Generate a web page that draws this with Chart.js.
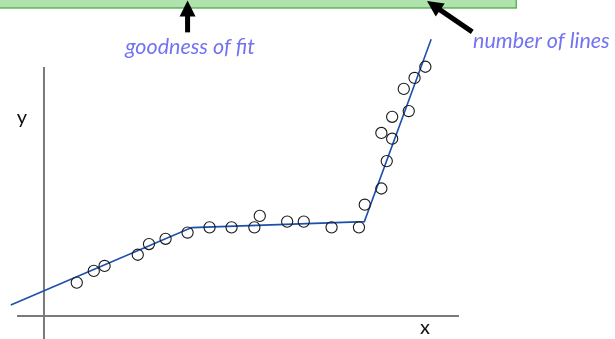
<!DOCTYPE html>
<html>
<head>
<meta charset="utf-8">
<script src="https://cdn.jsdelivr.net/npm/chart.js@4"></script>
<style>
  html, body { margin: 0; padding: 0; background: #fff; }
  #wrap { width: 615px; height: 339px; }
</style>
</head>
<body>
<div id="wrap"><canvas id="fitChart"></canvas></div>
<script>
// observed points
var pointX = [7.9, 12.0, 14.6, 22.6, 25.3, 29.3, 34.6, 39.9, 45.2, 50.7, 52.0, 58.6, 62.6,
              69.3, 75.9, 77.3, 81.3, 82.6, 83.9, 81.3, 83.9, 87.9, 86.7, 89.3, 91.9];
var pointY = [13.4, 18.1, 20.1, 24.6, 28.9, 31.0, 33.5, 35.6, 35.6, 35.6, 40.2, 37.9, 37.9,
              35.6, 35.6, 44.7, 51.2, 62.2, 71.2, 73.5, 80.0, 82.3, 91.2, 95.6, 100.1];

// piecewise linear fit (3 lines)
var fitX = [-8.0, 35.6, 77.2, 93.3];
var fitY = [4.4, 35.5, 37.9, 111.1];

// hand-drawn axes
var axisX = { x: [-6.5, 100], y: [0, 0] };
var axisY = { x: [0, 0], y: [100, -9.3] };

var labelTop1 = 'goodness of fit';
var labelTop2 = 'number of lines';

function zipXY(xs, ys) {
    return xs.map(function (v, i) { return { x: v, y: ys[i] }; });
}

var decorations = {
    id: 'decorations',
    afterDraw: function (chart) {
        var ctx = chart.ctx;
        var sx = chart.scales.x, sy = chart.scales.y;
        var px = function (v) { return sx.getPixelForValue(v); };
        var py = function (v) { return sy.getPixelForValue(v); };
        ctx.save();

        // green box at the top, only its bottom edge shows
        var boxBottom = py(123.7);
        ctx.fillStyle = '#b0e2ad';
        ctx.fillRect(px(-10.6), -5, px(113.8) - px(-10.6), boxBottom + 5);
        ctx.strokeStyle = '#5fb55c';
        ctx.lineWidth = 1.5;
        ctx.strokeRect(px(-10.6) - 2, -5, px(113.8) - px(-10.6) + 2, boxBottom + 5);

        // arrows
        ctx.fillStyle = '#000';
        ctx.strokeStyle = '#000';
        ctx.lineCap = 'butt';
        function arrow(x1, y1, x2, y2) {
            var ang = Math.atan2(y2 - y1, x2 - x1);
            var head = 16, half = 8;
            var bx = x2 - head * Math.cos(ang), by = y2 - head * Math.sin(ang);
            ctx.lineWidth = 5;
            ctx.beginPath();
            ctx.moveTo(x1, y1);
            ctx.lineTo(bx + 2 * Math.cos(ang), by + 2 * Math.sin(ang));
            ctx.stroke();
            ctx.beginPath();
            ctx.moveTo(x2, y2);
            ctx.lineTo(bx + half * Math.sin(ang), by - half * Math.cos(ang));
            ctx.lineTo(bx - half * Math.sin(ang), by + half * Math.cos(ang));
            ctx.closePath();
            ctx.fill();
        }
        arrow(px(34.6), py(113.9), px(34.6), py(126.7));
        arrow(px(103.2), py(114.1), px(92.3), py(126.5));

        // captions
        ctx.fillStyle = '#7373f2';
        ctx.font = 'italic 21.5px Lato';
        ctx.textBaseline = 'alphabetic';
        ctx.textAlign = 'center';
        ctx.fillText(labelTop1, px(35.2), py(105.4));
        ctx.textAlign = 'left';
        ctx.fillText(labelTop2, px(103.4), py(107.6));

        // axis letters
        ctx.fillStyle = '#111';
        ctx.font = '20px Lato';
        ctx.textAlign = 'center';
        ctx.textBaseline = 'middle';
        ctx.fillText('y', px(-5.3), py(79.6));
        ctx.fillText('x', px(91.8), py(-4.6));
        ctx.restore();
    }
};

new Chart(document.getElementById('fitChart'), {
    type: 'scatter',
    data: {
        datasets: [{
            label: 'data',
            data: zipXY(pointX, pointY),
            pointRadius: 5.6,
            pointBorderColor: '#1a1a1a',
            pointBackgroundColor: 'rgba(0,0,0,0)',
            pointBorderWidth: 1.1,
            showLine: false,
            order: 0
        }, {
            label: 'fit',
            data: zipXY(fitX, fitY),
            showLine: true,
            borderColor: '#1d4fae',
            borderWidth: 1.6,
            pointRadius: 0,
            order: 1
        }, {
            label: 'x axis',
            data: zipXY(axisX.x, axisX.y),
            showLine: true,
            borderColor: '#7a7a7a',
            borderWidth: 2,
            pointRadius: 0,
            order: 2
        }, {
            label: 'y axis',
            data: zipXY(axisY.x, axisY.y),
            showLine: true,
            borderColor: '#7a7a7a',
            borderWidth: 2,
            pointRadius: 0,
            order: 2
        }]
    },
    options: {
        responsive: true,
        maintainAspectRatio: false,
        animation: false,
        layout: { padding: 0, autoPadding: false },
        plugins: {
            legend: { display: false },
            tooltip: { enabled: false }
        },
        scales: {
            x: { type: 'linear', min: -10.6, max: 137.6, display: false },
            y: { type: 'linear', min: -9.24, max: 126.9, display: false }
        }
    },
    plugins: [decorations]
});
</script>
</body>
</html>
